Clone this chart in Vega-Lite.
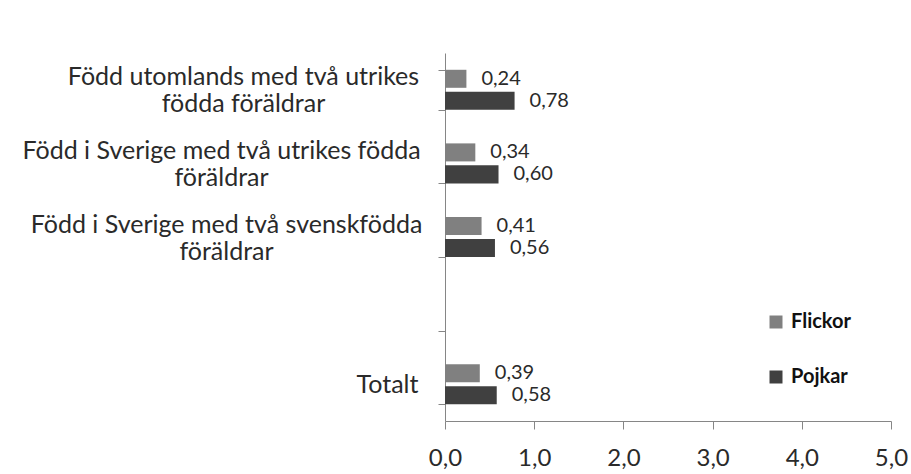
{
  "$schema": "https://vega.github.io/schema/vega-lite/v6.json",
  "width": 446,
  "height": 368,
  "autosize": "none",
  "padding": {"left": 445, "top": 53, "right": 20, "bottom": 53},
  "background": "#ffffff",
  "config": {
    "view": {"stroke": null},
    "font": "Lato",
    "locale": {"number": {"decimal": ",", "thousands": " ", "grouping": [3], "currency": ["", " kr"]}}
  },
  "data": {
    "values": [
      {"kategori": "Född utomlands med två utrikes födda föräldrar", "kön": "Flickor", "värde": 0.24},
      {"kategori": "Född utomlands med två utrikes födda föräldrar", "kön": "Pojkar", "värde": 0.78},
      {"kategori": "Född i Sverige med två utrikes födda föräldrar", "kön": "Flickor", "värde": 0.34},
      {"kategori": "Född i Sverige med två utrikes födda föräldrar", "kön": "Pojkar", "värde": 0.60},
      {"kategori": "Född i Sverige med två svenskfödda föräldrar", "kön": "Flickor", "värde": 0.41},
      {"kategori": "Född i Sverige med två svenskfödda föräldrar", "kön": "Pojkar", "värde": 0.56},
      {"kategori": "Totalt", "kön": "Flickor", "värde": 0.39},
      {"kategori": "Totalt", "kön": "Pojkar", "värde": 0.58}
    ]
  },
  "encoding": {
    "y": {
      "field": "kategori",
      "type": "nominal",
      "scale": {
        "domain": [
          "Född utomlands med två utrikes födda föräldrar",
          "Född i Sverige med två utrikes födda föräldrar",
          "Född i Sverige med två svenskfödda föräldrar",
          " ",
          "Totalt"
        ],
        "paddingInner": 0.4565,
        "paddingOuter": 0.228
      },
      "axis": {
        "title": null,
        "tickBand": "extent",
        "tickSize": 7,
        "tickColor": "#868686",
        "domainColor": "#868686",
        "labelFont": "Lato",
        "labelFontSize": 25,
        "labelColor": "#2a2a2a",
        "labelAlign": "center",
        "labelBaseline": "middle",
        "labelLineHeight": 27,
        "labelOffset": {
          "condition": {"test": "datum.value === 'Totalt'", "value": 0},
          "value": -13
        },
        "labelPadding": {
          "condition": [
            {"test": "datum.value === 'Totalt'", "value": 51},
            {"test": "datum.value === 'Född utomlands med två utrikes födda föräldrar'", "value": 195},
            {"test": "datum.value === 'Född i Sverige med två utrikes födda föräldrar'", "value": 217}
          ],
          "value": 212
        },
        "labelLimit": 500,
        "labelExpr": "datum.value === 'Född utomlands med två utrikes födda föräldrar' ? ['Född utomlands med två utrikes', 'födda föräldrar'] : datum.value === 'Född i Sverige med två utrikes födda föräldrar' ? ['Född i Sverige med två utrikes födda', 'föräldrar'] : datum.value === 'Född i Sverige med två svenskfödda föräldrar' ? ['Född i Sverige med två svenskfödda', 'föräldrar'] : datum.value"
      }
    },
    "yOffset": {
      "field": "kön",
      "type": "nominal",
      "sort": ["Flickor", "Pojkar"],
      "scale": {"paddingInner": 0.18, "paddingOuter": 0}
    },
    "x": {
      "field": "värde",
      "type": "quantitative",
      "scale": {"domain": [0, 5], "nice": false},
      "axis": {
        "title": null,
        "values": [0, 1, 2, 3, 4, 5],
        "format": ".1f",
        "grid": false,
        "tickSize": 8,
        "tickColor": "#868686",
        "domainColor": "#868686",
        "labelFont": "Lato",
        "labelFontSize": 24,
        "labelColor": "#2a2a2a",
        "labelPadding": 17,
        "labelFlush": false
      }
    }
  },
  "layer": [
    {
      "mark": {"type": "bar"},
      "encoding": {
        "color": {
          "field": "kön",
          "type": "nominal",
          "scale": {"domain": ["Flickor", "Pojkar"], "range": ["#808080", "#404040"]},
          "legend": {
            "title": null,
            "orient": "none",
            "legendX": 321,
            "legendY": 259,
            "symbolType": "square",
            "symbolSize": 169,
            "symbolStrokeWidth": 0,
            "labelFont": "Lato",
            "labelFontSize": 20,
            "labelFontWeight": "bold",
            "labelColor": "#111111",
            "rowPadding": 35,
            "labelOffset": 5
          }
        }
      }
    },
    {
      "mark": {"type": "text", "align": "left", "baseline": "middle", "dx": 15, "fontSize": 20, "font": "Lato", "color": "#2a2a2a"},
      "encoding": {
        "text": {"field": "värde", "type": "quantitative", "format": ".2f"}
      }
    }
  ]
}
